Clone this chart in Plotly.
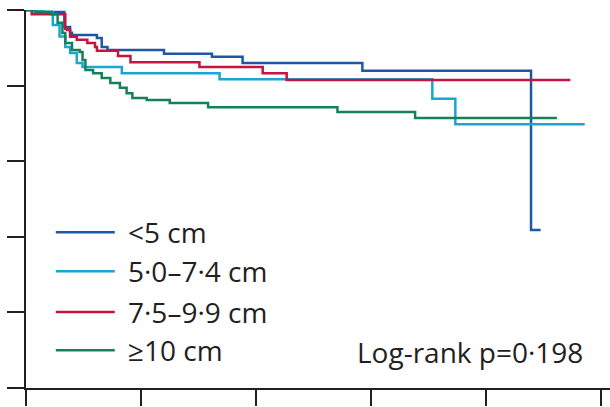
import plotly.graph_objects as go

# Kaplan-Meier style step data (time in months, survival proportion)
series_names = ["<5 cm", "5·0–7·4 cm", "7·5–9·9 cm", "≥10 cm"]
series_colors = ["#1c58a6", "#1aa6cf", "#c4143f", "#16805a"]

t_lt5 = [0, 1.5, 4.0, 4.6, 4.8, 7.4, 7.9, 8.5, 14.4, 19.4, 22.6, 35.1, 52.7, 53.7]
s_lt5 = [1.0, 0.995, 0.955, 0.940, 0.934, 0.926, 0.902, 0.894, 0.884, 0.876, 0.860, 0.839, 0.418, 0.418]

t_5to7 = [0, 1.8, 2.8, 3.5, 4.1, 4.6, 5.3, 5.9, 10.0, 20.2, 42.4, 44.8, 58.3]
s_5to7 = [1.0, 0.995, 0.960, 0.930, 0.902, 0.886, 0.860, 0.849, 0.833, 0.817, 0.765, 0.698, 0.698]

t_7to9 = [0, 0.6, 4.1, 4.3, 4.6, 5.3, 6.4, 7.2, 7.4, 9.6, 10.9, 18.1, 24.7, 27.2, 56.8]
s_7to9 = [1.0, 0.989, 0.950, 0.947, 0.929, 0.921, 0.913, 0.902, 0.892, 0.878, 0.862, 0.849, 0.833, 0.815, 0.815]

t_ge10 = [0, 0.9, 2.7, 3.3, 3.8, 4.1, 4.8, 5.6, 5.9, 6.2, 7.0, 7.9, 8.8, 9.8, 10.5, 11.1, 12.6, 15.0, 19.0, 32.5, 40.6, 55.4]
s_ge10 = [1.0, 0.995, 0.989, 0.966, 0.939, 0.913, 0.894, 0.889, 0.868, 0.841, 0.833, 0.820, 0.807, 0.794, 0.780, 0.767, 0.762, 0.754, 0.743, 0.730, 0.714, 0.714]

x_ticks = [0, 12, 24, 36, 48, 60]
y_ticks = [0, 0.2, 0.4, 0.6, 0.8, 1.0]
p_text = "Log-rank p=0·198"

times = [t_lt5, t_5to7, t_7to9, t_ge10]
survs = [s_lt5, s_5to7, s_7to9, s_ge10]

FONT = "Open Sans"
TXT = "#231f20"

fig = go.Figure()
for name, col, t, s in zip(series_names, series_colors, times, survs):
    fig.add_trace(go.Scatter(x=t, y=s, mode="lines", name=name,
                             line=dict(color=col, width=2.5, shape="hv"),
                             showlegend=False))

# Manual legend (long line samples)
leg_y = [0.412, 0.309, 0.201, 0.100]
for name, col, yy in zip(series_names, series_colors, leg_y):
    fig.add_shape(type="line", xref="paper", yref="paper",
                  x0=0.051, x1=0.152, y0=yy, y1=yy,
                  line=dict(color=col, width=2.5))
    fig.add_annotation(xref="paper", yref="paper", x=0.172, y=yy,
                       text=name, showarrow=False, xanchor="left", yanchor="middle",
                       font=dict(family=FONT, size=28, color=TXT))

fig.add_annotation(xref="paper", yref="paper", x=0.957, y=0.095,
                   text=p_text, showarrow=False, xanchor="right", yanchor="middle",
                   font=dict(family=FONT, size=28, color=TXT))

fig.update_layout(
    width=610, height=407,
    margin=dict(l=26, r=0, t=10, b=19),
    paper_bgcolor="white", plot_bgcolor="white",
    xaxis=dict(range=[0, 60.94], tickvals=x_ticks, showticklabels=False,
               ticks="outside", ticklen=16, tickwidth=2, tickcolor=TXT,
               showline=True, linecolor=TXT, linewidth=2,
               showgrid=False, zeroline=False),
    yaxis=dict(range=[0, 1.0], tickvals=y_ticks, showticklabels=False,
               ticks="outside", ticklen=17, tickwidth=2, tickcolor=TXT,
               showline=True, linecolor=TXT, linewidth=2,
               showgrid=False, zeroline=False),
)

fig.write_html("out.html")
